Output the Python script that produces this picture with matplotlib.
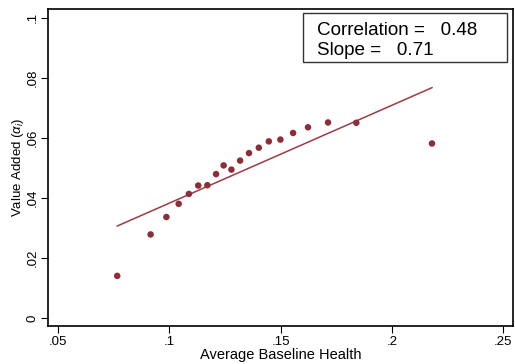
import numpy as np
import matplotlib
matplotlib.use("Agg")
import matplotlib.pyplot as plt
from matplotlib.patches import Rectangle

plt.rcParams["font.family"] = ["Liberation Sans", "DejaVu Sans"]
plt.rcParams["mathtext.fontset"] = "custom"
plt.rcParams["mathtext.rm"] = "Liberation Sans"
plt.rcParams["mathtext.it"] = "Liberation Sans:italic"

# binned means
baseline = [0.0766, 0.0916, 0.0987, 0.1042, 0.1088, 0.1130, 0.1171, 0.1210,
            0.1244, 0.1279, 0.1318, 0.1358, 0.1402, 0.1447, 0.1499, 0.1556,
            0.1623, 0.1713, 0.1840, 0.2180]
value_added = [0.0140, 0.0278, 0.0336, 0.0380, 0.0413, 0.0441, 0.0442, 0.0479,
               0.0508, 0.0494, 0.0524, 0.0549, 0.0567, 0.0588, 0.0594, 0.0616,
               0.0635, 0.0651, 0.0650, 0.0581]

# fitted line endpoints
fit_x = [0.0766, 0.2180]
fit_y = [0.0306, 0.0767]

correlation = 0.48
slope = 0.71

x_ticks = [0.05, 0.10, 0.15, 0.20, 0.25]
x_tick_labels = [".05", ".1", ".15", ".2", ".25"]
y_ticks = [0, 0.02, 0.04, 0.06, 0.08, 0.10]
y_tick_labels = ["0", ".02", ".04", ".06", ".08", ".1"]

dot_color = "#8c2d38"
line_color = "#9e3a44"

fig = plt.figure(figsize=(5.15, 3.64), dpi=100)
ax = fig.add_axes([48 / 515, 1 - 326 / 364, 465 / 515, 317 / 364])

ax.plot(fit_x, fit_y, color=line_color, lw=1.1, zorder=2)
ax.scatter(baseline, value_added, s=22, color=dot_color, edgecolor="none", zorder=3)

ax.set_xlim(0.0455, 0.2544)
ax.set_ylim(-0.0027, 0.1029)
ax.set_xticks(x_ticks)
ax.set_xticklabels(x_tick_labels, fontsize=9.5)
ax.set_yticks(y_ticks)
ax.set_yticklabels(y_tick_labels, fontsize=9.5, rotation=90, va="center")
ax.tick_params(direction="out", length=5, width=0.8, color="black", pad=2)

ax.set_xlabel("Average Baseline Health", fontsize=10.5, labelpad=0)
ax.set_ylabel(r"Value Added ($\alpha_i$)", fontsize=9.5, labelpad=0)

for s in ax.spines.values():
    s.set_linewidth(1.2)
    s.set_color("black")

# statistics box
fig.add_artist(Rectangle((303 / 515, 1 - 62 / 364), 204 / 515, 49 / 364,
                         transform=fig.transFigure, facecolor="white",
                         edgecolor="#333333", lw=1.0, zorder=5))
fig.text(317 / 515, 1 - 35 / 364, "Correlation =   %.2f" % correlation,
         fontsize=13.6, va="baseline", zorder=6)
fig.text(317 / 515, 1 - 55 / 364, "Slope =   %.2f" % slope,
         fontsize=13.6, va="baseline", zorder=6)

fig.savefig("out.png", dpi=100)
